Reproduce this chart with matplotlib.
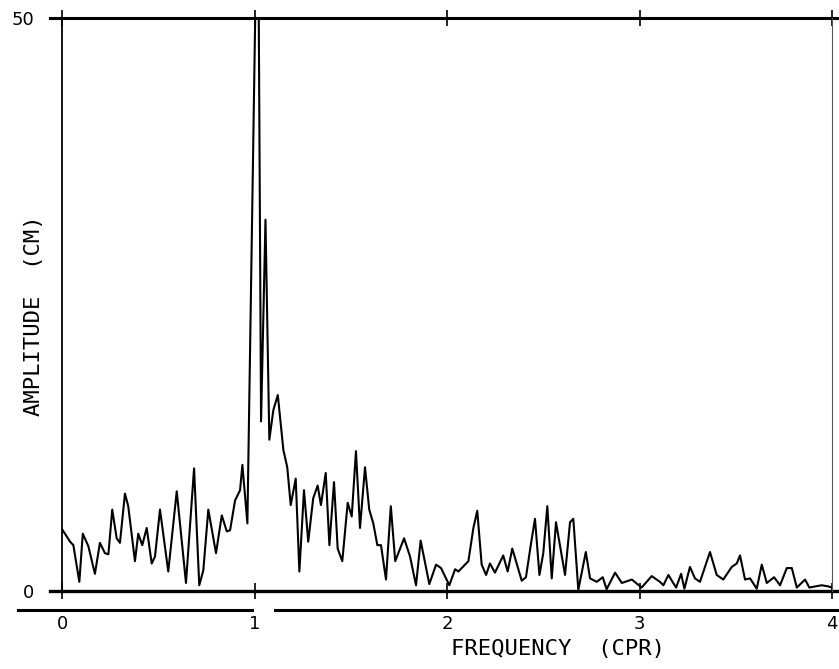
import matplotlib
matplotlib.use('Agg')
import matplotlib.pyplot as plt

# spectrum: frequency (CPR) and amplitude (CM)
freq = [0.000, 0.042, 0.059, 0.090, 0.108, 0.137, 0.171, 0.197, 0.223, 0.241,
        0.261, 0.284, 0.301, 0.327, 0.344, 0.379, 0.396, 0.417, 0.440, 0.466,
        0.483, 0.509, 0.552, 0.596, 0.644, 0.686, 0.713, 0.734, 0.760, 0.800,
        0.830, 0.856, 0.873, 0.899, 0.925, 0.937, 0.963, 1.004, 1.022, 1.034,
        1.049, 1.057, 1.077, 1.098, 1.121, 1.150, 1.170, 1.188, 1.198, 1.214,
        1.233, 1.257, 1.279, 1.305, 1.328, 1.345, 1.370, 1.389, 1.413, 1.432,
        1.456, 1.484, 1.505, 1.527, 1.548, 1.574, 1.596, 1.617, 1.638, 1.657,
        1.683, 1.708, 1.731, 1.777, 1.808, 1.839, 1.863, 1.908, 1.943, 1.969,
        2.012, 2.042, 2.059, 2.111, 2.137, 2.157, 2.180, 2.203, 2.223, 2.249,
        2.292, 2.315, 2.339, 2.388, 2.410, 2.435, 2.457, 2.480, 2.500, 2.521,
        2.544, 2.566, 2.613, 2.639, 2.656, 2.682, 2.721, 2.743, 2.778, 2.809,
        2.829, 2.873, 2.908, 2.960, 3.011, 3.063, 3.106, 3.124, 3.150, 3.175,
        3.190, 3.216, 3.233, 3.262, 3.288, 3.314, 3.340, 3.366, 3.401, 3.435,
        3.479, 3.505, 3.522, 3.548, 3.574, 3.609, 3.635, 3.661, 3.699, 3.730,
        3.765, 3.791, 3.817, 3.860, 3.882, 3.912, 3.947, 3.981, 4.000]
amp = [5.4, 4.3, 4.0, 0.8, 5.0, 3.9, 1.5, 4.2, 3.3, 3.2,
       7.1, 4.6, 4.2, 8.5, 7.4, 2.6, 5.0, 4.0, 5.5, 2.4,
       3.0, 7.1, 1.7, 8.7, 0.7, 10.7, 0.5, 1.8, 7.1, 3.3,
       6.6, 5.2, 5.3, 7.9, 8.8, 11.0, 5.9, 50.5, 50.5, 14.8,
       26.0, 32.4, 13.2, 15.8, 17.1, 12.3, 10.8, 7.5, 8.4, 9.8,
       1.7, 8.8, 4.3, 8.1, 9.2, 7.5, 10.3, 4.0, 9.5, 3.7,
       2.6, 7.7, 6.5, 12.2, 5.5, 10.8, 7.1, 5.9, 4.0, 4.0,
       1.0, 7.4, 2.6, 4.6, 3.0, 0.5, 4.4, 0.6, 2.3, 2.0,
       0.5, 1.9, 1.7, 2.6, 5.5, 7.0, 2.3, 1.4, 2.4, 1.6,
       3.1, 1.7, 3.7, 0.9, 1.2, 4.0, 6.3, 1.4, 3.3, 7.4,
       1.1, 6.0, 1.4, 6.0, 6.3, 0.1, 3.4, 1.1, 0.8, 1.2,
       0.15, 1.6, 0.7, 1.0, 0.3, 1.3, 0.8, 0.5, 1.4, 0.7,
       0.3, 1.5, 0.2, 2.1, 1.1, 0.8, 2.1, 3.4, 1.4, 1.0,
       2.1, 2.4, 3.1, 1.0, 1.1, 0.2, 2.3, 0.7, 1.2, 0.5,
       2.0, 2.0, 0.3, 1.0, 0.3, 0.4, 0.5, 0.4, 0.3]

x_ticks = [0, 1, 2, 3, 4]
x_ticklabels = ['0', '1', '2', '3', '4']
y_ticks = [0, 50]
y_ticklabels = ['0', '50']

fig = plt.figure(figsize=(8.39, 6.69), dpi=100)
ax = fig.add_axes([0.0739, 0.1166, 0.9178, 0.8565])

ax.plot(freq, amp, color='black', lw=1.5)
ax.set_xlim(0, 4)
ax.set_ylim(0, 50)

# frame: only left and a faint right edge
for s in ['top', 'bottom']:
    ax.spines[s].set_visible(False)
ax.spines['left'].set_linewidth(1.3)
ax.spines['right'].set_linewidth(0.8)
ax.spines['right'].set_color('#555555')

# extended top and zero lines
ax.plot([-0.016, 1.01], [1, 1], transform=ax.transAxes, color='black', lw=2.2, clip_on=False)
ax.plot([-0.016, 1.01], [0, 0], transform=ax.transAxes, color='black', lw=2.4, clip_on=False)
# second frequency axis line under the zero line (with a gap after 1)
ax.plot([-0.057, 0.247], [-0.034, -0.034], transform=ax.transAxes, color='black', lw=2.2, clip_on=False)
ax.plot([0.276, 1.01], [-0.034, -0.034], transform=ax.transAxes, color='black', lw=2.2, clip_on=False)

ax.set_xticks(x_ticks)
ax.set_xticklabels(x_ticklabels, fontsize=13)
ax.xaxis.set_ticks_position('both')
ax.tick_params(axis='x', which='both', direction='inout', length=12, width=1.2, pad=11)
ax.set_yticks(y_ticks)
ax.set_yticklabels(y_ticklabels, fontsize=13)
ax.tick_params(axis='y', length=0, pad=20)

ax.set_xlabel('FREQUENCY  (CPR)', fontsize=16, family='DejaVu Sans Mono')
ax.xaxis.set_label_coords(0.644, -0.083)
ax.set_ylabel('AMPLITUDE  (CM)', fontsize=16, family='DejaVu Sans Mono')
ax.yaxis.set_label_coords(-0.024, 0.48)

fig.savefig('out.png', dpi=100)
